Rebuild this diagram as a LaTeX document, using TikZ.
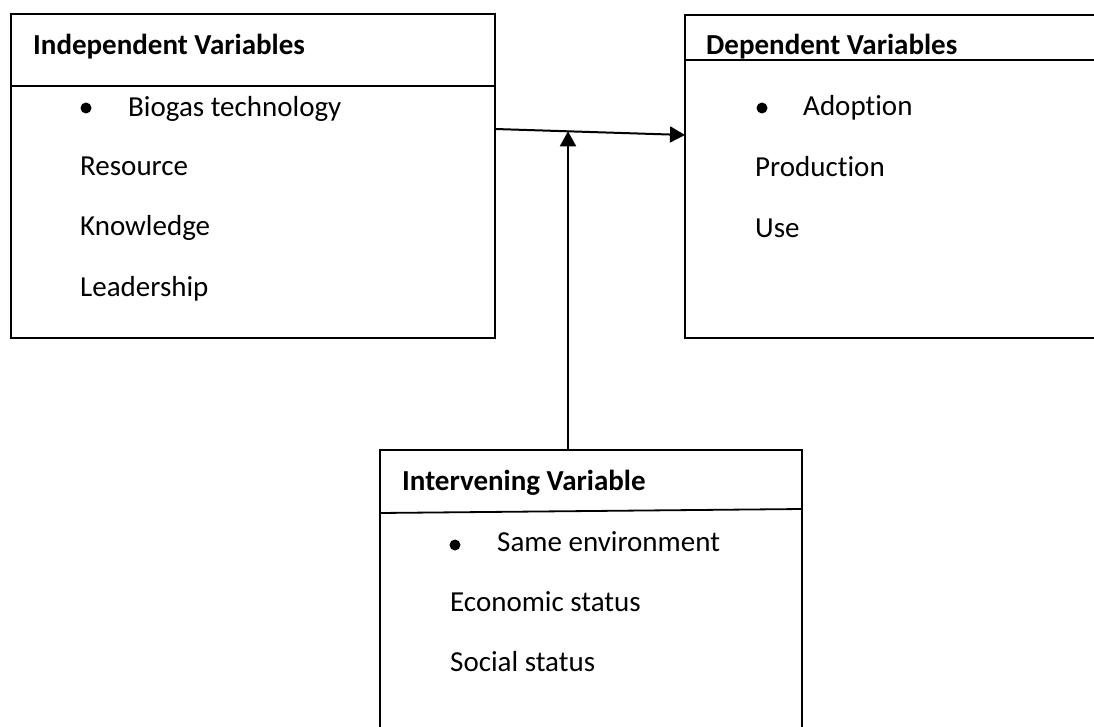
\documentclass[tikz,border=0pt]{standalone}
\usepackage{fontspec}
\setmainfont[Ligatures=NoCommon]{Carlito}
\usetikzlibrary{arrows.meta,calc}
\begin{document}
\begin{tikzpicture}[x=1pt,y=-1pt,
  frame/.style={draw=black,line width=1.8pt},
  lbl/.style={anchor=base west,inner sep=0pt,font=\fontsize{29}{35}\selectfont},
  head/.style={lbl,font=\fontsize{29}{35}\selectfont\bfseries},
  bul/.style={circle,fill=black,inner sep=0pt,minimum size=11pt},
  conn/.style={draw=black,line width=2pt,-{Triangle[length=15pt,width=16pt]}}]
\useasboundingbox (0,0) rectangle (1094,727);
% boxes
\draw[frame] (11,14) rectangle (495,338);
\draw[frame] (11,86) -- (495,86);
\draw[frame] (685,15) rectangle (1110,338);
\draw[frame] (685,60) -- (1110,60);
\draw[frame] (380,450) rectangle (802,740);
\draw[frame] (380,513) -- (802,509);
% left box
\node[head] (h1) at (33,55) {Independent Variables};
\node[bul] (b1) at (86,108) {};
\node[lbl] (t1) at (128,117) {Biogas technology};
\node[lbl] (t2) at (80,176) {Resource};
\node[lbl] (t3) at (80,236) {Knowledge};
\node[lbl] (t4) at (80,296) {Leadership};
% right box
\node[head] (h2) at (706,55) {Dependent Variables};
\node[bul] (b2) at (762,108) {};
\node[lbl] (r1) at (803,116) {Adoption};
\node[lbl] (r2) at (755,177) {Production};
\node[lbl] (r3) at (755,237) {Use};
% bottom box
\node[head] (h3) at (402,490) {Intervening Variable};
\node[bul] (b3) at (455,545) {};
\node[lbl] (s1) at (497,551) {Same environment};
\node[lbl] (s2) at (450,611) {Economic status};
\node[lbl] (s3) at (450,671) {Social status};
% connectors
\coordinate (src) at (495,129);
\coordinate (dst) at (685,135);
\coordinate (mid) at ($(src)!0.384!(dst)$);
\coordinate (bot) at (568,450);
\draw[conn] (src) -- (dst);
\draw[conn] (bot) -- (bot |- mid);
\end{tikzpicture}
\end{document}
